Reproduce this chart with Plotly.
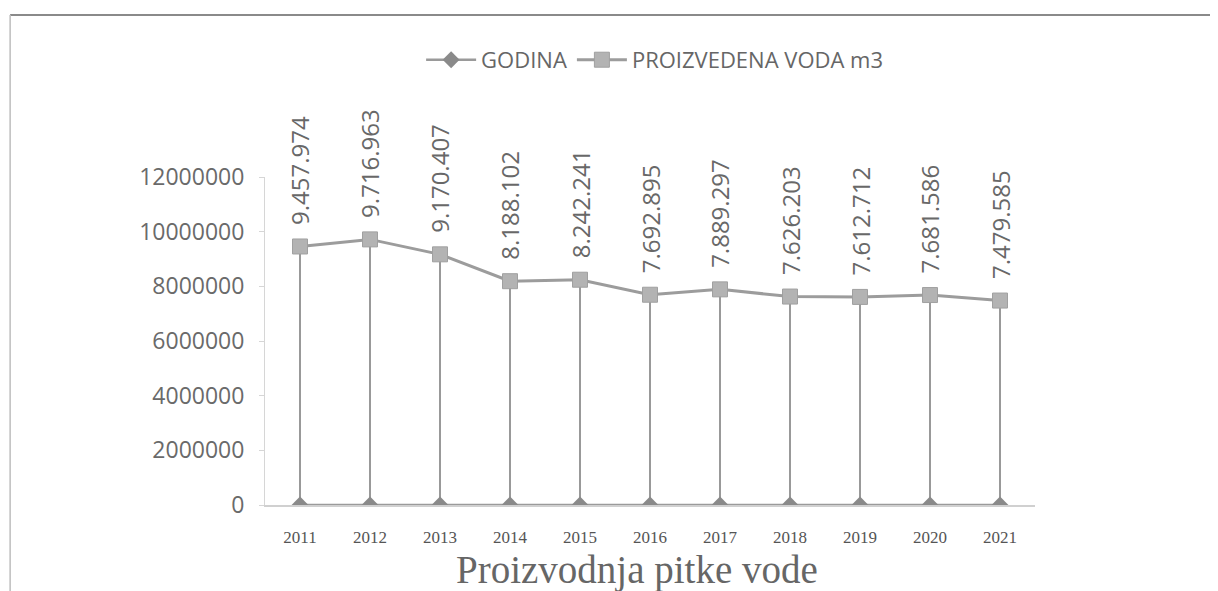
import plotly.graph_objects as go

years = ["2011", "2012", "2013", "2014", "2015", "2016", "2017", "2018", "2019", "2020", "2021"]
godina = [2011, 2012, 2013, 2014, 2015, 2016, 2017, 2018, 2019, 2020, 2021]
voda = [9457974, 9716963, 9170407, 8188102, 8242241, 7692895, 7889297, 7626203, 7612712, 7681586, 7479585]
y_ticks = [0, 2000000, 4000000, 6000000, 8000000, 10000000, 12000000]

fig = go.Figure()

# drop lines from each point to the axis
dx, dy = [], []
for c, v in zip(years, voda):
    dx += [c, c, None]
    dy += [v, 0, None]
fig.add_trace(go.Scatter(x=dx, y=dy, mode="lines", line=dict(color="#555555", width=1.2),
                         showlegend=False, hoverinfo="skip"))

fig.add_trace(go.Scatter(x=years, y=godina, mode="lines+markers", name="GODINA",
                         line=dict(color="#9a9a9a", width=2.5),
                         marker=dict(symbol="diamond", size=13, color="#8a8a8a")))
fig.add_trace(go.Scatter(x=years, y=voda, mode="lines+markers", name="PROIZVEDENA VODA m3",
                         line=dict(color="#9c9c9c", width=3),
                         marker=dict(symbol="square", size=15, color="#b3b3b3",
                                     line=dict(color="#a0a0a0", width=1))))

annotations = []
for i, v in enumerate(voda):
    annotations.append(dict(x=i, y=v, xref="x", yref="y", text=f"{v:,}".replace(",", "."),
                            textangle=-90, showarrow=False, yanchor="bottom", xanchor="center",
                            yshift=19, font=dict(family="Open Sans", size=24, color="#686868")))
annotations.append(dict(x=0.483, y=-0.198, xref="paper", yref="paper", text="Proizvodnja pitke vode",
                        showarrow=False, xanchor="center", yanchor="middle",
                        font=dict(family="Liberation Serif", size=39, color="#666666")))

shapes = [
    dict(type="line", xref="paper", yref="paper", x0=-0.331, x1=1.3, y0=1.494, y1=1.494,
         line=dict(color="#8a8a8a", width=2)),
    dict(type="line", xref="paper", yref="paper", x0=-0.331, x1=-0.331, y0=1.494, y1=-0.3,
         line=dict(color="#bdbdbd", width=1.5)),
]

fig.update_layout(
    width=1210, height=583,
    margin=dict(l=257, r=183, t=169, b=86),
    paper_bgcolor="white", plot_bgcolor="white",
    showlegend=True,
    legend=dict(orientation="h", x=0.506, xanchor="center", y=1.357, yanchor="middle",
                font=dict(family="Open Sans", size=22, color="#666666"), itemwidth=50,
                traceorder="normal"),
    annotations=annotations,
    shapes=shapes,
    xaxis=dict(type="category", range=[-0.5, 10.5], showgrid=False, showline=True,
               linecolor="#d0d0d0", linewidth=1.5, ticks="", ticklabelstandoff=16,
               tickfont=dict(family="Liberation Serif", size=17, color="#555555")),
    yaxis=dict(range=[0, 12000000], tickvals=y_ticks, ticktext=[str(t) for t in y_ticks],
               showgrid=False, showline=True, linecolor="#d6d6d6", linewidth=1,
               ticks="outside", ticklen=5, tickcolor="#d6d6d6", ticklabelstandoff=10,
               zeroline=False,
               tickfont=dict(family="Open Sans", size=23, color="#6a6a6a")),
)

fig.write_html("out.html")
